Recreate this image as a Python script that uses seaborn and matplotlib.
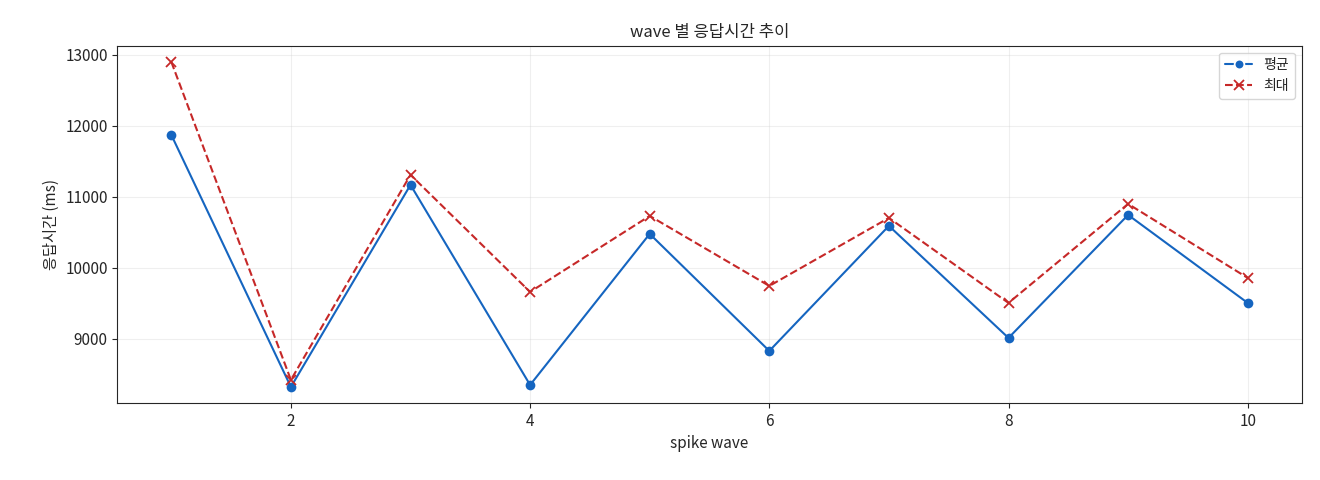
import matplotlib
matplotlib.use("Agg")
import matplotlib.pyplot as plt
import seaborn as sns
import pandas as pd

waves = [1, 2, 3, 4, 5, 6, 7, 8, 9, 10]
avg_ms = [11873, 8324, 11169, 8352, 10479, 8831, 10592, 9014, 10746, 9507]
max_ms = [12901, 8423, 11310, 9662, 10732, 9746, 10704, 9507, 10901, 9859]

sns.set_style("ticks")
plt.rcParams['font.family'] = ['Noto Sans CJK KR', 'DejaVu Sans']
plt.rcParams['axes.unicode_minus'] = False

df = pd.DataFrame({"wave": waves, "avg": avg_ms, "max": max_ms})
fig, ax = plt.subplots(figsize=(13.2, 4.8), dpi=100)
sns.lineplot(data=df, x="wave", y="avg", ax=ax, color="#1565C0", marker="o",
             markersize=7, markeredgewidth=0, label="평균", linewidth=1.5)
sns.lineplot(data=df, x="wave", y="max", ax=ax, color="#C62828", marker="x",
             markersize=7, markeredgewidth=1.3, markeredgecolor="#C62828",
             label="최대", linewidth=1.5)
ax.lines[1].set_linestyle("--")
ax.lines[1].set_markeredgewidth(1.3)
ax.grid(True, alpha=0.3)
ax.set_title("wave 별 응답시간 추이", fontsize=12)
ax.set_xlabel("spike wave", fontsize=11)
ax.set_ylabel("응답시간 (ms)", fontsize=11)
ax.tick_params(labelsize=11)
ax.set_yticks([9000, 10000, 11000, 12000, 13000])
leg = ax.legend(loc="upper right", fontsize=10)
for h in leg.legend_handles:
    h.set_markeredgewidth(1.3)
leg.legend_handles[1].set_linestyle("--")
fig.subplots_adjust(left=0.089, right=0.986, top=0.905, bottom=0.16)
fig.savefig("out.png", dpi=100)
